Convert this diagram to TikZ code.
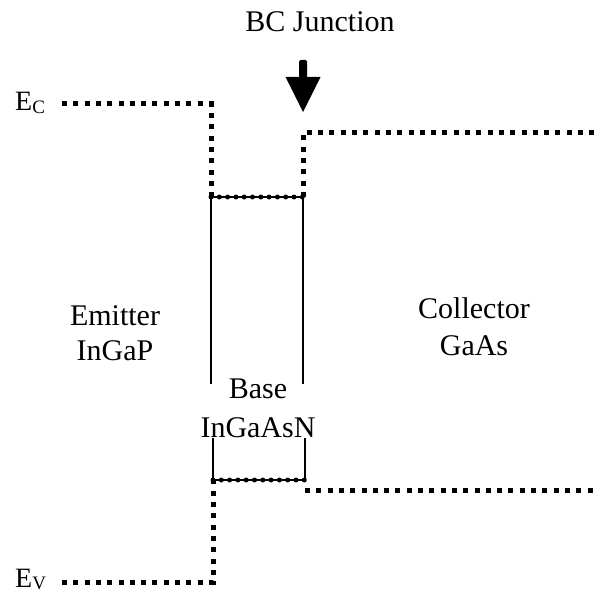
\documentclass[tikz,border=0pt]{standalone}
\usepackage{fontspec}
\setmainfont{Liberation Serif}
\begin{document}
\begin{tikzpicture}[x=1pt,y=-1pt,
  band/.style={line width=5pt, dash pattern=on 5pt off 6.3pt},
  baseband/.style={line width=5pt, line cap=round, dash pattern=on 0pt off 8.3pt},
  wall/.style={line width=1.8pt},
  lbl/.style={font=\fontsize{30}{36}\selectfont, inner sep=0pt, anchor=base},
  elbl/.style={font=\fontsize{28}{32}\selectfont, inner sep=0pt, anchor=base west}]
\useasboundingbox (0,0) rectangle (595,596);
% coordinates
\coordinate (ec0) at (62,104);
\coordinate (ec1) at (211,104);
\coordinate (bt0) at (211,197);
\coordinate (bt1) at (303,197);
\coordinate (cc0) at (303,133);
\coordinate (cc1) at (595,133);
\coordinate (bb0) at (213,480);
\coordinate (bb1) at (305,480);
\coordinate (cv0) at (305,490);
\coordinate (cv1) at (595,490);
\coordinate (ev1) at (213,582);
\coordinate (ev0) at (62,582);
\coordinate (wl1) at (211,384);
\coordinate (wr1) at (303,384);
\coordinate (wl2) at (213,438);
\coordinate (wr2) at (305,438);
\coordinate (ar0) at (303,60);
\coordinate (ar1) at (303,112);
% conduction band
\draw[band] (ec0) -- (ec1) -- (bt0);
\draw[wall] (bt0) -- (bt1);
\draw[baseband] (bt0) -- (bt1);
\draw[band] (bt1) -- (cc0) -- (cc1);
% valence band
\draw[band] (ev0) -- (ev1) -- (bb0);
\draw[wall] (bb0) -- (bb1);
\draw[baseband] (bb0) -- (bb1);
\draw[band] (cv0) -- (cv1);
% base walls
\draw[wall] (bt0) -- (wl1);
\draw[wall] (bt1) -- (wr1);
\draw[wall] (wl2) -- (bb0);
\draw[wall] (wr2) -- (bb1);
% arrow
\fill[rounded corners=1.5pt] (ar0) ++(-4,0) rectangle ++(8,18);
\fill (ar1) -- ++(-17.5,-35) -- ++(35,0) -- cycle;
% labels
\node[lbl] (bcj) at (320,32) {BC Junction};
\node[elbl] (ec) at (15,111) {E\raisebox{-0.2ex}{\fontsize{19}{22}\selectfont C}};
\node[elbl] (ev) at (15,587) {E\raisebox{-0.2ex}{\fontsize{19}{22}\selectfont V}};
\node[lbl] (emit1) at (115,325) {Emitter};
\node[lbl] (emit2) at (115,360) {InGaP};
\node[lbl] (coll1) at (474,318) {Collector};
\node[lbl] (coll2) at (474,355) {GaAs};
\node[lbl] (base1) at (258,398) {Base};
\node[lbl] (base2) at (258,437) {InGaAsN};
\end{tikzpicture}
\end{document}
